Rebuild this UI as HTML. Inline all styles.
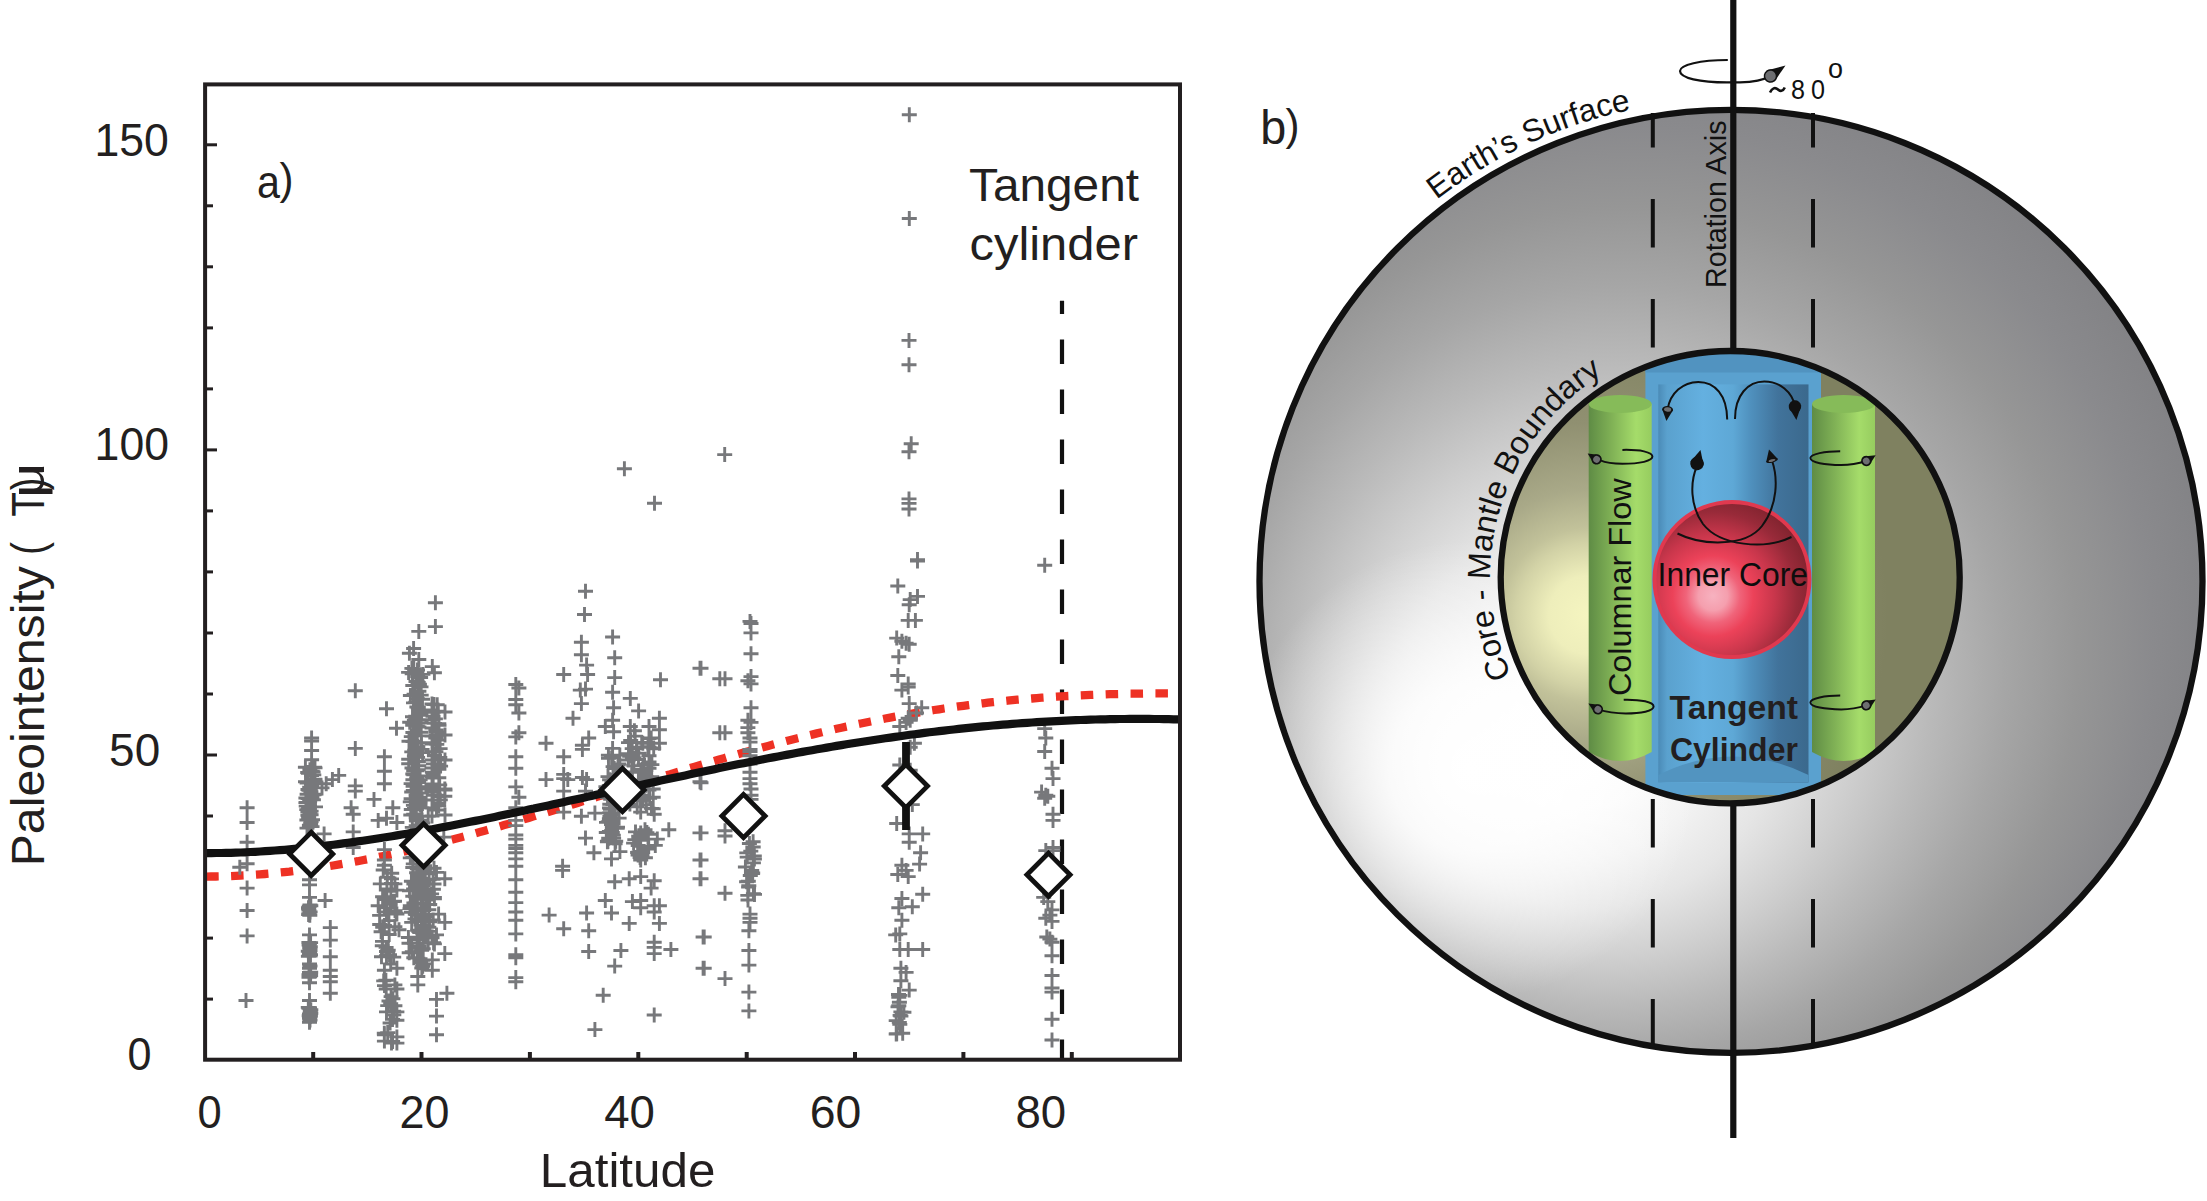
<!DOCTYPE html>
<html><head><meta charset="utf-8"><style>html,body{margin:0;padding:0;background:#fff;overflow:hidden}svg{display:block}</style></head>
<body><svg width="2207" height="1201" viewBox="0 0 2207 1201"><defs>
<radialGradient id="gOuter" gradientUnits="userSpaceOnUse" cx="1660" cy="610" r="640" fx="1560" fy="760"><stop offset="0.000" stop-color="rgb(255,255,255)"/><stop offset="0.100" stop-color="rgb(252,252,252)"/><stop offset="0.200" stop-color="rgb(243,243,243)"/><stop offset="0.300" stop-color="rgb(229,229,229)"/><stop offset="0.400" stop-color="rgb(208,208,208)"/><stop offset="0.500" stop-color="rgb(186,186,186)"/><stop offset="0.600" stop-color="rgb(166,166,166)"/><stop offset="0.700" stop-color="rgb(150,150,150)"/><stop offset="0.800" stop-color="rgb(138,138,141)"/><stop offset="0.880" stop-color="rgb(131,131,134)"/><stop offset="0.940" stop-color="rgb(128,128,131)"/><stop offset="1.000" stop-color="rgb(128,128,131)"/></radialGradient>
<radialGradient id="gInner" gradientUnits="userSpaceOnUse" cx="1588" cy="615" r="300">
 <stop offset="0" stop-color="#f5f5c0"/>
 <stop offset="0.13" stop-color="#eeeebb"/>
 <stop offset="0.24" stop-color="#d2d2a6"/>
 <stop offset="0.29" stop-color="#c2c29a"/>
 <stop offset="0.42" stop-color="#a9a988"/>
 <stop offset="0.64" stop-color="#909071"/>
 <stop offset="1" stop-color="#7f8160"/>
</radialGradient>
<linearGradient id="gBlueIn" gradientUnits="userSpaceOnUse" x1="1658" y1="0" x2="1808" y2="0">
 <stop offset="0" stop-color="#4a8ab6"/>
 <stop offset="0.06" stop-color="#5aa1ce"/>
 <stop offset="0.3" stop-color="#64b0e0"/>
 <stop offset="0.5" stop-color="#5ea8d6"/>
 <stop offset="0.62" stop-color="#4f90bd"/>
 <stop offset="0.8" stop-color="#41739b"/>
 <stop offset="1" stop-color="#3b698d"/>
</linearGradient>
<radialGradient id="gRed" gradientUnits="userSpaceOnUse" cx="1713" cy="596" r="112">
 <stop offset="0" stop-color="#f7b2c0"/>
 <stop offset="0.13" stop-color="#f59fae"/>
 <stop offset="0.24" stop-color="#f0647a"/>
 <stop offset="0.36" stop-color="#ec4259"/>
 <stop offset="0.55" stop-color="#c8364b"/>
 <stop offset="0.75" stop-color="#982a39"/>
 <stop offset="0.9" stop-color="#82242f"/>
 <stop offset="1" stop-color="#7d222e"/>
</radialGradient>
<linearGradient id="gGreenL" gradientUnits="userSpaceOnUse" x1="1589" y1="0" x2="1652" y2="0">
 <stop offset="0" stop-color="#5f8c45"/>
 <stop offset="0.35" stop-color="#7fb055"/>
 <stop offset="0.75" stop-color="#a5dc6a"/>
 <stop offset="1" stop-color="#96cc5f"/>
</linearGradient>
<linearGradient id="gGreenR" gradientUnits="userSpaceOnUse" x1="1812" y1="0" x2="1875" y2="0">
 <stop offset="0" stop-color="#5f8c45"/>
 <stop offset="0.35" stop-color="#7fb055"/>
 <stop offset="0.75" stop-color="#a5dc6a"/>
 <stop offset="1" stop-color="#96cc5f"/>
</linearGradient>
<radialGradient id="gGlow" gradientUnits="userSpaceOnUse" cx="1470" cy="770" r="230">
 <stop offset="0" stop-color="#fff" stop-opacity="1"/>
 <stop offset="0.35" stop-color="#fff" stop-opacity="0.85"/>
 <stop offset="0.7" stop-color="#fff" stop-opacity="0.35"/>
 <stop offset="1" stop-color="#fff" stop-opacity="0"/>
</radialGradient>
<clipPath id="cOuter"><circle cx="1731" cy="581.4" r="468.5"/></clipPath>
<clipPath id="cInner"><ellipse cx="1730.2" cy="577.2" rx="227" ry="223.5"/></clipPath>
<path id="pEarth" d="M1434.3 201.6 A482 482 0 0 1 1647.3 106.7"/><path id="pCMB" d="M1512.7 678.6 A240 240 0 0 1 1628.8 359.7"/></defs><rect width="2207" height="1201" fill="#fff"/><line x1="206" y1="999.1" x2="213" y2="999.1" stroke="#231f20" stroke-width="3"/>
<line x1="206" y1="938.1" x2="213" y2="938.1" stroke="#231f20" stroke-width="3"/>
<line x1="206" y1="877.0" x2="213" y2="877.0" stroke="#231f20" stroke-width="3"/>
<line x1="206" y1="816.0" x2="213" y2="816.0" stroke="#231f20" stroke-width="3"/>
<line x1="206" y1="755.0" x2="217" y2="755.0" stroke="#231f20" stroke-width="3"/>
<line x1="206" y1="694.0" x2="213" y2="694.0" stroke="#231f20" stroke-width="3"/>
<line x1="206" y1="633.0" x2="213" y2="633.0" stroke="#231f20" stroke-width="3"/>
<line x1="206" y1="571.9" x2="213" y2="571.9" stroke="#231f20" stroke-width="3"/>
<line x1="206" y1="510.9" x2="213" y2="510.9" stroke="#231f20" stroke-width="3"/>
<line x1="206" y1="449.9" x2="217" y2="449.9" stroke="#231f20" stroke-width="3"/>
<line x1="206" y1="388.9" x2="213" y2="388.9" stroke="#231f20" stroke-width="3"/>
<line x1="206" y1="327.9" x2="213" y2="327.9" stroke="#231f20" stroke-width="3"/>
<line x1="206" y1="266.8" x2="213" y2="266.8" stroke="#231f20" stroke-width="3"/>
<line x1="206" y1="205.8" x2="213" y2="205.8" stroke="#231f20" stroke-width="3"/>
<line x1="206" y1="144.8" x2="217" y2="144.8" stroke="#231f20" stroke-width="3"/>
<line x1="313.2" y1="1058" x2="313.2" y2="1052" stroke="#231f20" stroke-width="4"/>
<line x1="421.5" y1="1058" x2="421.5" y2="1052" stroke="#231f20" stroke-width="4"/>
<line x1="529.9" y1="1058" x2="529.9" y2="1052" stroke="#231f20" stroke-width="4"/>
<line x1="638.3" y1="1058" x2="638.3" y2="1052" stroke="#231f20" stroke-width="4"/>
<line x1="746.7" y1="1058" x2="746.7" y2="1052" stroke="#231f20" stroke-width="4"/>
<line x1="855.0" y1="1058" x2="855.0" y2="1052" stroke="#231f20" stroke-width="4"/>
<line x1="963.4" y1="1058" x2="963.4" y2="1052" stroke="#231f20" stroke-width="4"/>
<line x1="1071.8" y1="1058" x2="1071.8" y2="1052" stroke="#231f20" stroke-width="4"/>
<line x1="1062" y1="300.7" x2="1062" y2="1058" stroke="#111" stroke-width="4.2" stroke-dasharray="24.5 25.5" stroke-dashoffset="11.3"/>
<path d="M206.2 876.6 L211.1 876.5 L216.0 876.5 L220.9 876.4 L225.7 876.2 L230.6 876.1 L235.5 875.9 L240.4 875.6 L245.3 875.4 L250.2 875.1 L255.1 874.7 L259.9 874.4 L264.8 874.0 L269.7 873.6 L274.6 873.1 L279.5 872.6 L284.4 872.1 L289.3 871.6 L294.1 871.0 L299.0 870.4 L303.9 869.8 L308.8 869.1 L313.7 868.5 L318.6 867.8 L323.5 867.0 L328.3 866.3 L333.2 865.5 L338.1 864.7 L343.0 863.8 L347.9 863.0 L352.8 862.1 L357.7 861.2 L362.5 860.2 L367.4 859.3 L372.3 858.3 L377.2 857.3 L382.1 856.3 L387.0 855.3 L391.9 854.2 L396.8 853.1 L401.6 852.0 L406.5 850.9 L411.4 849.8 L416.3 848.6 L421.2 847.4 L426.1 846.2 L431.0 845.0 L435.8 843.8 L440.7 842.5 L445.6 841.3 L450.5 840.0 L455.4 838.7 L460.3 837.4 L465.2 836.1 L470.0 834.8 L474.9 833.4 L479.8 832.0 L484.7 830.7 L489.6 829.3 L494.5 827.9 L499.4 826.5 L504.2 825.1 L509.1 823.7 L514.0 822.2 L518.9 820.8 L523.8 819.3 L528.7 817.9 L533.6 816.4 L538.4 814.9 L543.3 813.5 L548.2 812.0 L553.1 810.5 L558.0 809.0 L562.9 807.5 L567.8 806.0 L572.6 804.5 L577.5 803.0 L582.4 801.4 L587.3 799.9 L592.2 798.4 L597.1 796.9 L602.0 795.4 L606.8 793.8 L611.7 792.3 L616.6 790.8 L621.5 789.3 L626.4 787.7 L631.3 786.2 L636.2 784.7 L641.0 783.2 L645.9 781.7 L650.8 780.2 L655.7 778.6 L660.6 777.1 L665.5 775.6 L670.4 774.2 L675.2 772.7 L680.1 771.2 L685.0 769.7 L689.9 768.2 L694.8 766.8 L699.7 765.3 L704.6 763.9 L709.5 762.4 L714.3 761.0 L719.2 759.6 L724.1 758.2 L729.0 756.7 L733.9 755.4 L738.8 754.0 L743.7 752.6 L748.5 751.2 L753.4 749.9 L758.3 748.5 L763.2 747.2 L768.1 745.9 L773.0 744.6 L777.9 743.3 L782.7 742.0 L787.6 740.7 L792.5 739.5 L797.4 738.2 L802.3 737.0 L807.2 735.8 L812.1 734.6 L816.9 733.4 L821.8 732.3 L826.7 731.1 L831.6 730.0 L836.5 728.8 L841.4 727.7 L846.3 726.6 L851.1 725.6 L856.0 724.5 L860.9 723.5 L865.8 722.5 L870.7 721.5 L875.6 720.5 L880.5 719.5 L885.3 718.5 L890.2 717.6 L895.1 716.7 L900.0 715.8 L904.9 714.9 L909.8 714.0 L914.7 713.2 L919.5 712.4 L924.4 711.6 L929.3 710.8 L934.2 710.0 L939.1 709.3 L944.0 708.5 L948.9 707.8 L953.7 707.1 L958.6 706.4 L963.5 705.8 L968.4 705.1 L973.3 704.5 L978.2 703.9 L983.1 703.3 L987.9 702.7 L992.8 702.2 L997.7 701.7 L1002.6 701.2 L1007.5 700.7 L1012.4 700.2 L1017.3 699.7 L1022.2 699.3 L1027.0 698.9 L1031.9 698.5 L1036.8 698.1 L1041.7 697.7 L1046.6 697.4 L1051.5 697.0 L1056.4 696.7 L1061.2 696.4 L1066.1 696.1 L1071.0 695.9 L1075.9 695.6 L1080.8 695.4 L1085.7 695.1 L1090.6 694.9 L1095.4 694.7 L1100.3 694.6 L1105.2 694.4 L1110.1 694.2 L1115.0 694.1 L1119.9 694.0 L1124.8 693.8 L1129.6 693.7 L1134.5 693.7 L1139.4 693.6 L1144.3 693.5 L1149.2 693.4 L1154.1 693.4 L1159.0 693.4 L1163.8 693.3 L1168.7 693.3 L1173.6 693.3 L1178.5 693.3" fill="none" stroke="#ee3124" stroke-width="8.3" stroke-dasharray="12.5 12.4"/>
<path d="M427.9 602.7h15M435.4 595.2v15M427.9 626.6h15M435.4 619.1v15M411.3 631.4h15M418.8 623.9v15M406.1 648.5h15M413.6 641.0v15M401.9 653.3h15M409.4 645.8v15M411.3 659.5h15M418.8 652.0v15M424.8 666.6h15M432.3 659.1v15M426.9 672.8h15M434.4 665.3v15M424.8 709.9h15M432.3 702.4v15M426.9 723.4h15M434.4 715.9v15M424.8 735.9h15M432.3 728.4v15M431.1 740.1h15M438.6 732.6v15M426.9 755.7h15M434.4 748.2v15M433.1 766.1h15M440.6 758.6v15M424.8 776.5h15M432.3 769.0v15M437.3 789.0h15M444.8 781.5v15M437.3 796.3h15M444.8 788.8v15M424.8 786.9h15M432.3 779.4v15M347.8 690.7h15M355.3 683.2v15M379.0 708.8h15M386.5 701.3v15M389.0 728.2h15M396.5 720.7v15M347.8 748.4h15M355.3 740.9v15M376.9 756.7h15M384.4 749.2v15M376.9 771.3h15M384.4 763.8v15M376.9 783.8h15M384.4 776.3v15M347.8 785.9h15M355.3 778.4v15M347.8 791.1h15M355.3 783.6v15M366.5 799.4h15M374.0 791.9v15M343.6 807.7h15M351.1 800.2v15M385.3 807.7h15M392.8 800.2v15M304.1 738.0h15M311.6 730.5v15M304.1 741.1h15M311.6 733.6v15M304.1 750.5h15M311.6 743.0v15M304.1 759.8h15M311.6 752.3v15M331.2 775.4h15M338.7 767.9v15M324.9 779.6h15M332.4 772.1v15M318.7 783.8h15M326.2 776.3v15M314.5 787.9h15M322.0 780.4v15M239.6 807.7h15M247.1 800.2v15M404.4 668.4h15M411.9 660.9v15M406.3 668.6h15M413.8 661.1v15M410.0 670.0h15M417.5 662.5v15M401.1 672.4h15M408.6 664.9v15M404.7 673.7h15M412.2 666.2v15M415.4 674.4h15M422.9 666.9v15M413.1 677.5h15M420.6 670.0v15M410.2 676.5h15M417.7 669.0v15M410.1 681.9h15M417.6 674.4v15M408.5 681.5h15M416.0 674.0v15M410.7 682.5h15M418.2 675.0v15M411.9 684.1h15M419.4 676.6v15M405.3 685.5h15M412.8 678.0v15M413.5 686.9h15M421.0 679.4v15M411.4 691.3h15M418.9 683.8v15M411.3 691.4h15M418.8 683.9v15M406.6 694.2h15M414.1 686.7v15M407.4 694.6h15M414.9 687.1v15M413.7 695.1h15M421.2 687.6v15M402.9 695.5h15M410.4 688.0v15M415.0 699.3h15M422.5 691.8v15M410.0 698.8h15M417.5 691.3v15M408.3 702.2h15M415.8 694.7v15M406.0 702.9h15M413.5 695.4v15M409.4 707.0h15M416.9 699.5v15M410.8 707.1h15M418.3 699.6v15M413.4 710.4h15M420.9 702.9v15M410.7 707.8h15M418.2 700.3v15M413.4 713.4h15M420.9 705.9v15M414.1 712.2h15M421.6 704.7v15M411.3 714.2h15M418.8 706.7v15M413.0 715.3h15M420.5 707.8v15M405.0 716.8h15M412.5 709.3v15M413.3 719.7h15M420.8 712.2v15M402.2 722.3h15M409.7 714.8v15M406.9 720.2h15M414.4 712.7v15M405.2 725.3h15M412.7 717.8v15M413.6 723.0h15M421.1 715.5v15M409.8 726.1h15M417.3 718.6v15M411.4 727.0h15M418.9 719.5v15M413.7 732.2h15M421.2 724.7v15M408.2 732.2h15M415.7 724.7v15M405.4 732.5h15M412.9 725.0v15M409.6 732.4h15M417.1 724.9v15M403.8 736.6h15M411.3 729.1v15M409.8 735.9h15M417.3 728.4v15M401.5 741.2h15M409.0 733.7v15M405.5 741.5h15M413.0 734.0v15M414.0 742.8h15M421.5 735.3v15M407.6 743.2h15M415.1 735.7v15M410.3 746.6h15M417.8 739.1v15M409.0 746.7h15M416.5 739.2v15M414.6 749.4h15M422.1 741.9v15M407.2 750.1h15M414.7 742.6v15M404.3 751.9h15M411.8 744.4v15M415.1 752.6h15M422.6 745.1v15M408.9 754.1h15M416.4 746.6v15M406.9 755.9h15M414.4 748.4v15M401.2 759.2h15M408.7 751.7v15M410.1 757.4h15M417.6 749.9v15M410.0 761.8h15M417.5 754.3v15M410.8 761.5h15M418.3 754.0v15M411.2 765.8h15M418.7 758.3v15M401.2 763.7h15M408.7 756.2v15M410.7 769.6h15M418.2 762.1v15M404.5 768.0h15M412.0 760.5v15M409.5 770.7h15M417.0 763.2v15M406.2 770.7h15M413.7 763.2v15M406.3 774.7h15M413.8 767.2v15M405.3 774.0h15M412.8 766.5v15M412.1 776.0h15M419.6 768.5v15M409.2 778.3h15M416.7 770.8v15M405.4 779.8h15M412.9 772.3v15M412.6 779.8h15M420.1 772.3v15M403.6 783.6h15M411.1 776.1v15M411.1 782.5h15M418.6 775.0v15M405.6 786.4h15M413.1 778.9v15M413.0 786.7h15M420.5 779.2v15M413.4 789.0h15M420.9 781.5v15M405.8 790.5h15M413.3 783.0v15M413.8 793.0h15M421.3 785.5v15M404.2 792.0h15M411.7 784.5v15M408.6 795.3h15M416.1 787.8v15M412.6 797.3h15M420.1 789.8v15M403.6 798.7h15M411.1 791.2v15M412.6 799.8h15M420.1 792.3v15M412.6 802.0h15M420.1 794.5v15M402.8 801.9h15M410.3 794.4v15M412.5 804.9h15M420.0 797.4v15M405.9 805.4h15M413.4 797.9v15M407.0 808.5h15M414.5 801.0v15M414.3 807.7h15M421.8 800.2v15M297.9 767.2h15M305.4 759.7v15M307.0 767.3h15M314.5 759.8v15M302.4 769.7h15M309.9 762.2v15M307.5 767.9h15M315.0 760.4v15M305.6 771.9h15M313.1 764.4v15M304.7 771.1h15M312.2 763.6v15M300.9 773.2h15M308.4 765.7v15M300.2 772.5h15M307.7 765.0v15M304.0 775.5h15M311.5 768.0v15M306.3 774.9h15M313.8 767.4v15M307.3 779.1h15M314.8 771.6v15M307.5 779.6h15M315.0 772.1v15M307.2 781.3h15M314.7 773.8v15M298.0 781.7h15M305.5 774.2v15M299.6 783.1h15M307.1 775.6v15M304.7 783.6h15M312.2 776.1v15M302.2 787.2h15M309.7 779.7v15M304.2 785.7h15M311.7 778.2v15M300.5 789.5h15M308.0 782.0v15M302.8 789.3h15M310.3 781.8v15M301.5 790.3h15M309.0 782.8v15M303.4 791.8h15M310.9 784.3v15M299.6 794.3h15M307.1 786.8v15M307.4 794.3h15M314.9 786.8v15M306.4 794.8h15M313.9 787.3v15M304.4 797.0h15M311.9 789.5v15M298.4 798.0h15M305.9 790.5v15M300.6 798.6h15M308.1 791.1v15M302.2 801.0h15M309.7 793.5v15M305.9 799.8h15M313.4 792.3v15M298.4 802.6h15M305.9 795.1v15M299.1 802.5h15M306.6 795.0v15M308.0 806.9h15M315.5 799.4v15M298.7 806.1h15M306.2 798.6v15M301.1 808.1h15M308.6 800.6v15M301.5 808.9h15M309.0 801.4v15M429.7 704.8h15M437.2 697.3v15M426.4 704.6h15M433.9 697.1v15M425.9 712.3h15M433.4 704.8v15M430.8 711.2h15M438.3 703.7v15M425.5 716.2h15M433.0 708.7v15M427.9 718.9h15M435.4 711.4v15M431.3 723.7h15M438.8 716.2v15M431.5 725.2h15M439.0 717.7v15M428.4 729.9h15M435.9 722.4v15M429.0 732.0h15M436.5 724.5v15M428.3 738.1h15M435.8 730.6v15M428.7 735.3h15M436.2 727.8v15M429.3 744.4h15M436.8 736.9v15M425.4 742.7h15M432.9 735.2v15M428.4 751.8h15M435.9 744.3v15M432.6 748.6h15M440.1 741.1v15M432.3 757.5h15M439.8 750.0v15M427.0 755.4h15M434.5 747.9v15M425.8 763.9h15M433.3 756.4v15M430.3 764.3h15M437.8 756.8v15M431.4 769.2h15M438.9 761.7v15M430.9 768.6h15M438.4 761.1v15M425.7 775.0h15M433.2 767.5v15M424.9 772.2h15M432.4 764.7v15M431.3 777.8h15M438.8 770.3v15M425.6 778.1h15M433.1 770.6v15M432.2 784.9h15M439.7 777.4v15M425.0 789.0h15M432.5 781.5v15M425.8 795.3h15M433.3 787.8v15M430.4 795.2h15M437.9 787.7v15M432.8 799.9h15M440.3 792.4v15M431.5 796.5h15M439.0 789.0v15M431.2 805.7h15M438.7 798.2v15M430.8 803.2h15M438.3 795.7v15M239.6 822.5h15M247.1 815.0v15M239.6 842.3h15M247.1 834.8v15M239.6 863.7h15M247.1 856.2v15M239.6 888.1h15M247.1 880.6v15M239.6 910.5h15M247.1 903.0v15M239.6 935.9h15M247.1 928.4v15M238.5 1000.5h15M246.0 993.0v15M232.3 867.2h15M239.8 859.7v15M316.6 833.9h15M324.1 826.4v15M317.6 900.5h15M325.1 893.0v15M302.0 879.7h15M309.5 872.2v15M302.0 884.9h15M309.5 877.4v15M302.0 897.4h15M309.5 889.9v15M302.0 934.9h15M309.5 927.4v15M302.0 943.2h15M309.5 935.7v15M302.0 953.6h15M309.5 946.1v15M302.0 964.0h15M309.5 956.5v15M302.0 968.2h15M309.5 960.7v15M302.0 972.4h15M309.5 964.9v15M302.0 976.5h15M309.5 969.0v15M302.0 982.8h15M309.5 975.3v15M302.0 1000.5h15M309.5 993.0v15M302.0 1007.8h15M309.5 1000.3v15M302.0 1014.0h15M309.5 1006.5v15M302.0 1018.2h15M309.5 1010.7v15M302.0 1022.3h15M309.5 1014.8v15M322.8 927.6h15M330.3 920.1v15M322.8 940.1h15M330.3 932.6v15M322.8 956.8h15M330.3 949.3v15M322.8 970.3h15M330.3 962.8v15M322.8 976.5h15M330.3 969.0v15M322.8 981.7h15M330.3 974.2v15M322.8 993.2h15M330.3 985.7v15M345.7 814.2h15M353.2 806.7v15M345.7 831.9h15M353.2 824.4v15M345.7 847.5h15M353.2 840.0v15M370.7 820.4h15M378.2 812.9v15M379.0 818.3h15M386.5 810.8v15M389.4 822.5h15M396.9 815.0v15M376.9 849.6h15M384.4 842.1v15M376.9 860.0h15M384.4 852.5v15M376.9 865.2h15M384.4 857.7v15M372.8 883.9h15M380.3 876.4v15M387.4 883.9h15M394.9 876.4v15M389.4 890.1h15M396.9 882.6v15M376.9 899.5h15M384.4 892.0v15M385.3 901.6h15M392.8 894.1v15M370.7 905.8h15M378.2 898.3v15M379.0 912.0h15M386.5 904.5v15M389.4 914.1h15M396.9 906.6v15M376.9 925.5h15M384.4 918.0v15M387.4 926.6h15M394.9 919.1v15M391.5 929.7h15M399.0 922.2v15M379.0 951.5h15M386.5 944.0v15M379.0 955.7h15M386.5 948.2v15M383.2 964.0h15M390.7 956.5v15M376.9 970.3h15M384.4 962.8v15M389.4 968.2h15M396.9 960.7v15M387.4 984.9h15M394.9 977.4v15M389.4 989.0h15M396.9 981.5v15M383.2 1003.6h15M390.7 996.1v15M387.4 1005.7h15M394.9 998.2v15M379.0 1011.9h15M386.5 1004.4v15M389.4 1011.9h15M396.9 1004.4v15M389.4 1020.2h15M396.9 1012.7v15M376.9 1034.8h15M384.4 1027.3v15M389.4 1036.9h15M396.9 1029.4v15M389.4 1043.1h15M396.9 1035.6v15M376.9 1041.1h15M384.4 1033.6v15M410.3 976.5h15M417.8 969.0v15M410.3 984.9h15M417.8 977.4v15M429.0 810.0h15M436.5 802.5v15M420.7 816.2h15M428.2 808.7v15M436.3 837.1h15M443.8 829.6v15M429.0 872.4h15M436.5 864.9v15M437.3 878.7h15M444.8 871.2v15M426.9 897.4h15M434.4 889.9v15M431.1 914.1h15M438.6 906.6v15M437.3 922.4h15M444.8 914.9v15M429.0 934.9h15M436.5 927.4v15M420.7 943.2h15M428.2 935.7v15M437.3 953.6h15M444.8 946.1v15M424.8 959.9h15M432.3 952.4v15M424.8 970.3h15M432.3 962.8v15M439.4 993.2h15M446.9 985.7v15M429.0 999.4h15M436.5 991.9v15M429.0 1016.1h15M436.5 1008.6v15M429.0 1034.8h15M436.5 1027.3v15M303.6 811.1h15M311.1 803.6v15M299.3 809.6h15M306.8 802.1v15M302.4 813.3h15M309.9 805.8v15M300.4 811.7h15M307.9 804.2v15M300.4 815.3h15M307.9 807.8v15M303.6 814.7h15M311.1 807.2v15M301.2 817.2h15M308.7 809.7v15M301.1 817.3h15M308.6 809.8v15M299.4 820.0h15M306.9 812.5v15M305.0 819.8h15M312.5 812.3v15M303.6 821.6h15M311.1 814.1v15M303.2 823.1h15M310.7 815.6v15M303.1 825.0h15M310.6 817.5v15M301.9 825.3h15M309.4 817.8v15M304.5 826.6h15M312.0 819.1v15M299.5 828.1h15M307.0 820.6v15M303.3 905.8h15M310.8 898.3v15M301.8 906.3h15M309.3 898.8v15M301.0 907.7h15M308.5 900.2v15M301.1 908.5h15M308.6 901.0v15M301.4 910.1h15M308.9 902.6v15M302.6 911.9h15M310.1 904.4v15M301.4 913.8h15M308.9 906.3v15M301.7 914.1h15M309.2 906.6v15M302.3 915.2h15M309.8 907.7v15M301.1 914.6h15M308.6 907.1v15M408.9 809.6h15M416.4 802.1v15M403.8 809.5h15M411.3 802.0v15M406.2 814.2h15M413.7 806.7v15M403.3 815.0h15M410.8 807.5v15M408.9 817.0h15M416.4 809.5v15M408.7 817.8h15M416.2 810.3v15M414.6 820.2h15M422.1 812.7v15M408.9 820.7h15M416.4 813.2v15M415.2 823.0h15M422.7 815.5v15M413.1 824.9h15M420.6 817.4v15M408.7 825.8h15M416.2 818.3v15M404.8 827.4h15M412.3 819.9v15M412.1 831.5h15M419.6 824.0v15M415.1 829.1h15M422.6 821.6v15M404.0 832.5h15M411.5 825.0v15M404.0 834.0h15M411.5 826.5v15M415.2 838.0h15M422.7 830.5v15M405.1 837.9h15M412.6 830.4v15M406.1 839.7h15M413.6 832.2v15M413.0 838.6h15M420.5 831.1v15M402.4 844.4h15M409.9 836.9v15M405.7 842.8h15M413.2 835.3v15M410.5 847.2h15M418.0 839.7v15M401.0 846.1h15M408.5 838.6v15M408.1 849.9h15M415.6 842.4v15M404.4 850.3h15M411.9 842.8v15M416.8 852.9h15M424.3 845.4v15M409.9 852.0h15M417.4 844.5v15M405.5 857.2h15M413.0 849.7v15M402.8 857.9h15M410.3 850.4v15M416.0 858.6h15M423.5 851.1v15M416.6 859.5h15M424.1 852.0v15M413.7 864.1h15M421.2 856.6v15M405.8 863.9h15M413.3 856.4v15M411.8 867.6h15M419.3 860.1v15M405.3 867.5h15M412.8 860.0v15M416.9 870.5h15M424.4 863.0v15M409.8 868.7h15M417.3 861.2v15M409.1 872.8h15M416.6 865.3v15M412.8 873.9h15M420.3 866.4v15M410.3 875.6h15M417.8 868.1v15M411.6 877.0h15M419.1 869.5v15M403.9 881.2h15M411.4 873.7v15M411.8 878.7h15M419.3 871.2v15M416.4 882.1h15M423.9 874.6v15M406.4 884.0h15M413.9 876.5v15M410.8 886.8h15M418.3 879.3v15M411.7 886.5h15M419.2 879.0v15M406.1 888.9h15M413.6 881.4v15M402.0 890.7h15M409.5 883.2v15M413.4 893.4h15M420.9 885.9v15M413.2 892.8h15M420.7 885.3v15M405.3 896.2h15M412.8 888.7v15M415.4 895.1h15M422.9 887.6v15M409.3 899.1h15M416.8 891.6v15M413.7 899.4h15M421.2 891.9v15M406.4 902.9h15M413.9 895.4v15M409.9 904.2h15M417.4 896.7v15M406.8 907.7h15M414.3 900.2v15M402.8 905.8h15M410.3 898.3v15M402.5 908.6h15M410.0 901.1v15M413.9 910.7h15M421.4 903.2v15M404.0 912.2h15M411.5 904.7v15M407.8 914.1h15M415.3 906.6v15M414.5 917.4h15M422.0 909.9v15M410.7 915.4h15M418.2 907.9v15M407.5 918.9h15M415.0 911.4v15M409.7 920.1h15M417.2 912.6v15M404.2 922.4h15M411.7 914.9v15M413.9 921.7h15M421.4 914.2v15M414.3 927.9h15M421.8 920.4v15M416.7 926.2h15M424.2 918.7v15M410.1 930.2h15M417.6 922.7v15M411.4 931.5h15M418.9 924.0v15M412.3 932.6h15M419.8 925.1v15M415.2 933.2h15M422.7 925.7v15M410.9 937.3h15M418.4 929.8v15M400.9 937.5h15M408.4 930.0v15M411.9 939.9h15M419.4 932.4v15M409.6 939.8h15M417.1 932.3v15M404.1 943.3h15M411.6 935.8v15M401.5 943.2h15M409.0 935.7v15M411.6 946.4h15M419.1 938.9v15M410.3 948.1h15M417.8 940.6v15M415.7 948.7h15M423.2 941.2v15M414.1 950.3h15M421.6 942.8v15M401.7 952.7h15M409.2 945.2v15M404.8 951.8h15M412.3 944.3v15M409.9 958.0h15M417.4 950.5v15M406.3 957.8h15M413.8 950.3v15M412.5 958.7h15M420.0 951.2v15M415.2 960.2h15M422.7 952.7v15M416.3 963.9h15M423.8 956.4v15M413.2 962.7h15M420.7 955.2v15M414.3 968.0h15M421.8 960.5v15M415.2 966.3h15M422.7 958.8v15M426.5 868.2h15M434.0 860.7v15M417.0 865.8h15M424.5 858.3v15M416.6 872.1h15M424.1 864.6v15M417.8 873.7h15M425.3 866.2v15M425.6 879.3h15M433.1 871.8v15M421.6 879.9h15M429.1 872.4v15M419.9 884.3h15M427.4 876.8v15M426.5 884.0h15M434.0 876.5v15M418.1 892.1h15M425.6 884.6v15M425.9 889.2h15M433.4 881.7v15M420.9 895.5h15M428.4 888.0v15M424.1 893.9h15M431.6 886.4v15M415.5 899.2h15M423.0 891.7v15M426.9 898.8h15M434.4 891.3v15M422.2 904.5h15M429.7 897.0v15M418.5 904.4h15M426.0 896.9v15M421.3 909.8h15M428.8 902.3v15M415.9 909.5h15M423.4 902.0v15M417.9 916.9h15M425.4 909.4v15M416.3 914.4h15M423.8 906.9v15M422.0 921.9h15M429.5 914.4v15M425.7 920.0h15M433.2 912.5v15M421.3 927.3h15M428.8 919.8v15M415.8 930.3h15M423.3 922.8v15M418.6 931.0h15M426.1 923.5v15M422.4 931.4h15M429.9 923.9v15M424.5 937.8h15M432.0 930.3v15M417.3 936.2h15M424.8 928.7v15M426.1 942.8h15M433.6 935.3v15M426.9 943.9h15M434.4 936.4v15M303.1 942.6h15M310.6 935.1v15M301.4 942.5h15M308.9 935.0v15M302.8 946.7h15M310.3 939.2v15M301.6 945.1h15M309.1 937.6v15M302.5 950.9h15M310.0 943.4v15M302.2 947.9h15M309.7 940.4v15M300.8 951.3h15M308.3 943.8v15M301.2 951.1h15M308.7 943.6v15M300.9 956.2h15M308.4 948.7v15M303.0 954.8h15M310.5 947.3v15M303.2 972.3h15M310.7 964.8v15M302.8 973.2h15M310.3 965.7v15M303.1 973.5h15M310.6 966.0v15M301.5 974.7h15M309.0 967.2v15M303.1 975.7h15M310.6 968.2v15M301.5 977.3h15M309.0 969.8v15M300.8 1007.4h15M308.3 999.9v15M301.5 1008.3h15M309.0 1000.8v15M303.3 1009.7h15M310.8 1002.2v15M302.8 1011.3h15M310.3 1003.8v15M303.1 1013.7h15M310.6 1006.2v15M303.3 1013.2h15M310.8 1005.7v15M301.7 1015.7h15M309.2 1008.2v15M302.9 1016.4h15M310.4 1008.9v15M375.7 870.0h15M383.2 862.5v15M384.2 873.2h15M391.7 865.7v15M384.0 878.9h15M391.5 871.4v15M379.8 877.2h15M387.3 869.7v15M384.0 883.5h15M391.5 876.0v15M379.4 888.9h15M386.9 881.4v15M383.4 891.4h15M390.9 883.9v15M375.1 896.8h15M382.6 889.3v15M382.7 904.3h15M390.2 896.8v15M387.0 901.2h15M394.5 893.7v15M387.5 910.6h15M395.0 903.1v15M377.0 907.9h15M384.5 900.4v15M372.1 915.4h15M379.6 907.9v15M388.6 913.3h15M396.1 905.8v15M381.4 920.6h15M388.9 913.1v15M372.2 924.5h15M379.7 917.0v15M375.2 927.4h15M382.7 919.9v15M373.6 931.8h15M381.1 924.3v15M381.7 934.5h15M389.2 927.0v15M375.0 941.4h15M382.5 933.9v15M374.8 945.8h15M382.3 938.3v15M378.6 947.4h15M386.1 939.9v15M382.0 954.7h15M389.5 947.2v15M380.7 950.3h15M388.2 942.8v15M374.0 956.8h15M381.5 949.3v15M386.2 957.1h15M393.7 949.6v15M376.2 980.9h15M383.7 973.4v15M378.4 980.2h15M385.9 972.7v15M377.0 985.6h15M384.5 978.1v15M378.7 989.0h15M386.2 981.5v15M383.6 996.6h15M391.1 989.1v15M385.4 998.7h15M392.9 991.2v15M380.2 1005.6h15M387.7 998.1v15M381.5 1001.0h15M389.0 993.5v15M386.3 1014.9h15M393.8 1007.4v15M386.1 1011.2h15M393.6 1003.7v15M382.6 1023.0h15M390.1 1015.5v15M385.0 1019.4h15M392.5 1011.9v15M380.2 1032.6h15M387.7 1025.1v15M376.8 1033.2h15M384.3 1025.7v15M385.1 1041.4h15M392.6 1033.9v15M384.0 1043.1h15M391.5 1035.6v15M578.0 591.2h15M585.5 583.7v15M577.0 614.5h15M584.5 607.0v15M573.9 642.2h15M581.4 634.7v15M573.9 654.7h15M581.4 647.2v15M579.1 665.1h15M586.6 657.6v15M580.1 674.5h15M587.6 667.0v15M556.2 674.5h15M563.7 667.0v15M578.0 689.1h15M585.5 681.6v15M572.8 690.1h15M580.3 682.6v15M573.9 703.6h15M581.4 696.1v15M565.5 718.2h15M573.0 710.7v15M605.1 637.0h15M612.6 629.5v15M607.2 657.8h15M614.7 650.3v15M607.2 677.6h15M614.7 670.1v15M605.1 692.2h15M612.6 684.7v15M606.1 707.8h15M613.6 700.3v15M605.1 720.3h15M612.6 712.8v15M597.8 726.5h15M605.3 719.0v15M606.1 731.7h15M613.6 724.2v15M622.8 698.4h15M630.3 690.9v15M631.1 710.9h15M638.6 703.4v15M651.9 718.2h15M659.4 710.7v15M622.8 726.5h15M630.3 719.0v15M626.9 730.7h15M634.4 723.2v15M653.0 679.7h15M660.5 672.2v15M692.5 668.2h15M700.0 660.7v15M712.3 678.7h15M719.8 671.2v15M712.3 732.8h15M719.8 725.3v15M651.9 729.7h15M659.4 722.2v15M651.9 743.2h15M659.4 735.7v15M641.5 726.5h15M649.0 719.0v15M508.3 684.5h15M515.8 677.0v15M511.4 688.0h15M518.9 680.5v15M508.3 699.5h15M515.8 692.0v15M508.3 704.7h15M515.8 697.2v15M511.4 713.0h15M518.9 705.5v15M511.4 732.8h15M518.9 725.3v15M508.3 736.9h15M515.8 729.4v15M508.3 756.7h15M515.8 749.2v15M508.3 768.2h15M515.8 760.7v15M508.3 786.9h15M515.8 779.4v15M511.4 797.3h15M518.9 789.8v15M508.3 807.7h15M515.8 800.2v15M538.5 743.2h15M546.0 735.7v15M556.2 756.7h15M563.7 749.2v15M581.2 738.0h15M588.7 730.5v15M574.9 745.3h15M582.4 737.8v15M574.9 749.4h15M582.4 741.9v15M538.5 779.6h15M546.0 772.1v15M556.2 774.4h15M563.7 766.9v15M556.2 778.6h15M563.7 771.1v15M560.3 779.6h15M567.8 772.1v15M574.9 777.5h15M582.4 770.0v15M579.1 779.6h15M586.6 772.1v15M556.2 791.1h15M563.7 783.6v15M578.0 791.1h15M585.5 783.6v15M605.1 748.4h15M612.6 740.9v15M624.9 757.8h15M632.4 750.3v15M629.0 747.3h15M636.5 739.8v15M635.3 743.2h15M642.8 735.7v15M641.5 747.3h15M649.0 739.8v15M641.5 755.7h15M649.0 748.2v15M641.5 761.9h15M649.0 754.4v15M641.5 768.2h15M649.0 760.7v15M635.3 770.2h15M642.8 762.7v15M624.9 772.3h15M632.4 764.8v15M692.5 781.7h15M700.0 774.2v15M645.7 789.0h15M653.2 781.5v15M645.7 797.3h15M653.2 789.8v15M645.7 808.8h15M653.2 801.3v15M600.9 755.1h15M608.4 747.6v15M612.3 755.1h15M619.8 747.6v15M604.1 757.9h15M611.6 750.4v15M601.0 758.2h15M608.5 750.7v15M611.4 764.0h15M618.9 756.5v15M610.5 765.0h15M618.0 757.5v15M606.7 768.5h15M614.2 761.0v15M605.6 766.6h15M613.1 759.1v15M611.6 772.2h15M619.1 764.7v15M611.6 770.6h15M619.1 763.1v15M609.1 774.1h15M616.6 766.6v15M612.3 776.0h15M619.8 768.5v15M602.1 779.8h15M609.6 772.3v15M600.5 776.6h15M608.0 769.1v15M608.3 781.1h15M615.8 773.6v15M605.4 782.4h15M612.9 774.9v15M598.4 786.6h15M605.9 779.1v15M601.8 785.4h15M609.3 777.9v15M602.8 790.3h15M610.3 782.8v15M608.7 788.6h15M616.2 781.1v15M599.3 792.4h15M606.8 784.9v15M603.8 791.6h15M611.3 784.1v15M600.0 797.9h15M607.5 790.4v15M608.0 798.7h15M615.5 791.2v15M612.1 802.0h15M619.6 794.5v15M603.2 799.4h15M610.7 791.9v15M602.3 804.2h15M609.8 796.7v15M605.5 804.5h15M613.0 797.0v15M603.0 809.4h15M610.5 801.9v15M602.0 808.0h15M609.5 800.5v15M643.7 738.0h15M651.2 730.5v15M627.7 736.1h15M635.2 728.6v15M641.5 738.6h15M649.0 731.1v15M623.2 740.4h15M630.7 732.9v15M634.2 742.5h15M641.7 735.0v15M621.0 742.6h15M628.5 735.1v15M640.5 746.8h15M648.0 739.3v15M646.2 747.9h15M653.7 740.4v15M646.2 748.7h15M653.7 741.2v15M624.7 748.6h15M632.2 741.1v15M631.4 753.1h15M638.9 745.6v15M621.0 753.7h15M628.5 746.2v15M622.2 756.3h15M629.7 748.8v15M626.4 757.9h15M633.9 750.4v15M631.0 759.5h15M638.5 752.0v15M620.9 760.0h15M628.4 752.5v15M636.6 764.2h15M644.1 756.7v15M644.4 764.6h15M651.9 757.1v15M626.4 765.7h15M633.9 758.2v15M640.2 767.9h15M647.7 760.4v15M633.4 771.3h15M640.9 763.8v15M634.6 769.5h15M642.1 762.0v15M624.2 772.0h15M631.7 764.5v15M637.1 774.9h15M644.6 767.4v15M644.2 776.8h15M651.7 769.3v15M637.7 778.3h15M645.2 770.8v15M641.7 780.6h15M649.2 773.1v15M630.9 780.3h15M638.4 772.8v15M624.3 782.5h15M631.8 775.0v15M638.2 785.2h15M645.7 777.7v15M634.5 786.6h15M642.0 779.1v15M629.2 786.7h15M636.7 779.2v15M641.4 790.1h15M648.9 782.6v15M645.6 789.1h15M653.1 781.6v15M628.2 793.6h15M635.7 786.1v15M630.8 794.7h15M638.3 787.2v15M642.1 798.3h15M649.6 790.8v15M636.2 795.3h15M643.7 787.8v15M635.2 800.4h15M642.7 792.9v15M632.9 799.5h15M640.4 792.0v15M638.9 804.9h15M646.4 797.4v15M622.4 804.1h15M629.9 796.6v15M629.7 806.9h15M637.2 799.4v15M643.9 808.4h15M651.4 800.9v15M508.3 820.4h15M515.8 812.9v15M508.3 825.6h15M515.8 818.1v15M508.3 835.0h15M515.8 827.5v15M508.3 839.1h15M515.8 831.6v15M508.3 845.4h15M515.8 837.9v15M508.3 848.5h15M515.8 841.0v15M508.3 852.7h15M515.8 845.2v15M508.3 858.9h15M515.8 851.4v15M508.3 866.2h15M515.8 858.7v15M508.3 879.7h15M515.8 872.2v15M508.3 892.2h15M515.8 884.7v15M508.3 902.6h15M515.8 895.1v15M508.3 912.0h15M515.8 904.5v15M508.3 920.3h15M515.8 912.8v15M508.3 933.9h15M515.8 926.4v15M508.3 954.7h15M515.8 947.2v15M508.3 957.8h15M515.8 950.3v15M508.3 977.6h15M515.8 970.1v15M508.3 981.7h15M515.8 974.2v15M555.1 866.2h15M562.6 858.7v15M555.1 870.4h15M562.6 862.9v15M541.6 915.1h15M549.1 907.6v15M556.2 928.7h15M563.7 921.2v15M578.0 838.1h15M585.5 830.6v15M586.4 852.7h15M593.9 845.2v15M573.9 816.2h15M581.4 808.7v15M556.2 812.1h15M563.7 804.6v15M587.4 813.1h15M594.9 805.6v15M579.1 913.0h15M586.6 905.5v15M581.2 930.7h15M588.7 923.2v15M581.2 951.5h15M588.7 944.0v15M597.8 900.5h15M605.3 893.0v15M604.0 913.0h15M611.5 905.5v15M607.2 881.8h15M614.7 874.3v15M613.4 950.5h15M620.9 943.0v15M607.2 966.1h15M614.7 958.6v15M595.7 995.3h15M603.2 987.8v15M587.4 1029.6h15M594.9 1022.1v15M646.7 1015.0h15M654.2 1007.5v15M621.7 923.4h15M629.2 915.9v15M621.7 878.7h15M629.2 871.2v15M633.2 876.6h15M640.7 869.1v15M643.6 888.1h15M651.1 880.6v15M646.7 880.8h15M654.2 873.3v15M633.2 900.5h15M640.7 893.0v15M624.9 901.6h15M632.4 894.1v15M633.2 907.8h15M640.7 900.3v15M646.7 905.8h15M654.2 898.3v15M646.7 912.0h15M654.2 904.5v15M651.9 905.8h15M659.4 898.3v15M651.9 923.4h15M659.4 915.9v15M646.7 942.2h15M654.2 934.7v15M646.7 947.4h15M654.2 939.9v15M646.7 953.6h15M654.2 946.1v15M663.4 949.5h15M670.9 942.0v15M695.6 937.0h15M703.1 929.5v15M695.6 968.2h15M703.1 960.7v15M692.5 832.9h15M700.0 825.4v15M692.5 860.0h15M700.0 852.5v15M692.5 878.7h15M700.0 871.2v15M661.3 829.8h15M668.8 822.3v15M649.8 839.1h15M657.3 831.6v15M647.8 845.4h15M655.3 837.9v15M633.2 832.9h15M640.7 825.4v15M633.2 840.2h15M640.7 832.7v15M633.2 846.4h15M640.7 838.9v15M633.2 852.7h15M640.7 845.2v15M633.2 860.0h15M640.7 852.5v15M604.0 814.2h15M611.5 806.7v15M604.0 819.4h15M611.5 811.9v15M604.0 824.6h15M611.5 817.1v15M604.0 830.8h15M611.5 823.3v15M606.1 838.1h15M613.6 830.6v15M608.2 841.2h15M615.7 833.7v15M612.4 851.6h15M619.9 844.1v15M604.0 858.9h15M611.5 851.4v15M646.7 814.2h15M654.2 806.7v15M633.2 812.1h15M640.7 804.6v15M607.2 809.0h15M614.7 801.5v15M611.2 808.9h15M618.7 801.4v15M603.4 814.4h15M610.9 806.9v15M602.4 812.6h15M609.9 805.1v15M611.6 818.1h15M619.1 810.6v15M602.4 816.3h15M609.9 808.8v15M601.9 818.8h15M609.4 811.3v15M601.4 821.6h15M608.9 814.1v15M599.0 822.4h15M606.5 814.9v15M600.7 821.9h15M608.2 814.4v15M605.5 827.5h15M613.0 820.0v15M610.0 827.1h15M617.5 819.6v15M609.7 828.3h15M617.2 820.8v15M601.9 831.5h15M609.4 824.0v15M598.8 832.5h15M606.3 825.0v15M604.8 832.5h15M612.3 825.0v15M605.8 835.1h15M613.3 827.6v15M601.2 838.2h15M608.7 830.7v15M599.9 841.3h15M607.4 833.8v15M600.4 841.6h15M607.9 834.1v15M607.6 843.8h15M615.1 836.3v15M599.9 841.8h15M607.4 834.3v15M637.5 829.7h15M645.0 822.2v15M628.0 831.9h15M635.5 824.4v15M639.4 832.6h15M646.9 825.1v15M640.9 834.3h15M648.4 826.8v15M631.2 836.2h15M638.7 828.7v15M631.4 839.1h15M638.9 831.6v15M629.5 839.6h15M637.0 832.1v15M627.3 839.6h15M634.8 832.1v15M630.7 845.5h15M638.2 838.0v15M626.1 843.1h15M633.6 835.6v15M640.5 849.1h15M648.0 841.6v15M641.2 846.6h15M648.7 839.1v15M630.8 852.3h15M638.3 844.8v15M632.9 851.5h15M640.4 844.0v15M630.1 852.5h15M637.6 845.0v15M630.6 855.0h15M638.1 847.5v15M637.9 857.7h15M645.4 850.2v15M632.6 857.6h15M640.1 850.1v15M742.5 621.4h15M750.0 613.9v15M743.5 623.5h15M751.0 616.0v15M743.5 632.9h15M751.0 625.4v15M743.5 653.7h15M751.0 646.2v15M743.5 676.6h15M751.0 669.1v15M740.4 680.7h15M747.9 673.2v15M743.5 683.9h15M751.0 676.4v15M743.5 707.8h15M751.0 700.3v15M740.4 720.3h15M747.9 712.8v15M743.5 722.4h15M751.0 714.9v15M740.4 727.6h15M747.9 720.1v15M740.4 732.8h15M747.9 725.3v15M742.5 738.0h15M750.0 730.5v15M742.5 742.1h15M750.0 734.6v15M742.5 749.4h15M750.0 741.9v15M742.5 751.5h15M750.0 744.0v15M742.5 755.7h15M750.0 748.2v15M742.5 764.0h15M750.0 756.5v15M742.5 772.3h15M750.0 764.8v15M742.5 778.6h15M750.0 771.1v15M742.5 783.8h15M750.0 776.3v15M743.5 789.0h15M751.0 781.5v15M743.5 795.2h15M751.0 787.7v15M743.5 799.4h15M751.0 791.9v15M693.5 668.2h15M701.0 660.7v15M717.5 678.7h15M725.0 671.2v15M717.5 732.8h15M725.0 725.3v15M693.5 782.7h15M701.0 775.2v15M910.0 561.0h15M917.5 553.5v15M890.3 586.0h15M897.8 578.5v15M910.0 596.4h15M917.5 588.9v15M902.7 599.6h15M910.2 592.1v15M901.7 604.8h15M909.2 597.3v15M900.7 620.4h15M908.2 612.9v15M907.9 620.4h15M915.4 612.9v15M889.2 638.1h15M896.7 630.6v15M894.4 641.2h15M901.9 633.7v15M898.6 643.3h15M906.1 635.8v15M901.7 644.3h15M909.2 636.8v15M891.3 656.8h15M898.8 649.3v15M890.3 675.5h15M897.8 668.0v15M900.7 683.9h15M908.2 676.4v15M900.7 687.0h15M908.2 679.5v15M894.4 690.1h15M901.9 682.6v15M901.7 703.6h15M909.2 696.1v15M914.2 707.8h15M921.7 700.3v15M909.0 713.0h15M916.5 705.5v15M900.7 718.2h15M908.2 710.7v15M902.7 720.3h15M910.2 712.8v15M898.6 722.4h15M906.1 714.9v15M892.3 726.5h15M899.8 719.0v15M906.9 743.2h15M914.4 735.7v15M902.7 747.3h15M910.2 739.8v15M892.3 765.0h15M899.8 757.5v15M902.7 770.2h15M910.2 762.7v15M904.8 804.6h15M912.3 797.1v15M742.5 914.1h15M750.0 906.6v15M742.5 918.2h15M750.0 910.7v15M742.5 922.4h15M750.0 914.9v15M741.4 930.7h15M748.9 923.2v15M741.4 950.5h15M748.9 943.0v15M741.4 965.1h15M748.9 957.6v15M741.4 992.1h15M748.9 984.6v15M741.4 1010.9h15M748.9 1003.4v15M693.5 832.9h15M701.0 825.4v15M717.5 830.8h15M725.0 823.3v15M717.5 836.0h15M725.0 828.5v15M693.5 860.0h15M701.0 852.5v15M693.5 878.7h15M701.0 871.2v15M717.5 893.3h15M725.0 885.8v15M696.7 937.0h15M704.2 929.5v15M696.7 968.2h15M704.2 960.7v15M717.5 978.6h15M725.0 971.1v15M889.2 823.5h15M896.7 816.0v15M901.7 833.9h15M909.2 826.4v15M915.2 833.9h15M922.7 826.4v15M901.7 842.3h15M909.2 834.8v15M913.1 852.7h15M920.6 845.2v15M912.1 864.1h15M919.6 856.6v15M894.4 865.2h15M901.9 857.7v15M898.6 870.4h15M906.1 862.9v15M890.3 874.5h15M897.8 867.0v15M900.7 876.6h15M908.2 869.1v15M915.2 894.3h15M922.7 886.8v15M894.4 898.5h15M901.9 891.0v15M891.3 907.8h15M898.8 900.3v15M904.8 906.8h15M912.3 899.3v15M894.4 920.3h15M901.9 912.8v15M892.3 933.9h15M899.8 926.4v15M888.2 934.9h15M895.7 927.4v15M892.3 949.5h15M899.8 942.0v15M900.7 949.5h15M908.2 942.0v15M915.2 949.5h15M922.7 942.0v15M893.4 968.2h15M900.9 960.7v15M898.6 972.4h15M906.1 964.9v15M893.4 980.7h15M900.9 973.2v15M901.7 990.1h15M909.2 982.6v15M891.3 997.3h15M898.8 989.8v15M891.3 1005.7h15M898.8 998.2v15M893.4 1011.9h15M900.9 1004.4v15M893.4 1016.1h15M900.9 1008.6v15M892.3 1024.4h15M899.8 1016.9v15M889.2 1033.8h15M896.7 1026.3v15M741.9 843.5h15M749.4 836.0v15M745.6 841.7h15M753.1 834.2v15M743.3 851.1h15M750.8 843.6v15M745.7 847.0h15M753.2 839.5v15M746.8 856.0h15M754.3 848.5v15M739.3 852.9h15M746.8 845.4v15M739.7 857.1h15M747.2 849.6v15M746.9 859.1h15M754.4 851.6v15M745.9 862.9h15M753.4 855.4v15M737.9 867.0h15M745.4 859.5v15M745.2 873.0h15M752.7 865.5v15M744.2 870.5h15M751.7 863.0v15M745.0 873.6h15M752.5 866.1v15M742.8 875.5h15M750.3 868.0v15M739.1 881.7h15M746.6 874.2v15M740.8 881.2h15M748.3 873.7v15M741.3 885.6h15M748.8 878.1v15M741.1 887.1h15M748.6 879.6v15M747.0 894.4h15M754.5 886.9v15M745.9 893.8h15M753.4 886.3v15M740.5 900.0h15M748.0 892.5v15M740.3 895.4h15M747.8 887.9v15M892.3 995.4h15M899.8 987.9v15M891.0 994.5h15M898.5 987.0v15M890.5 1006.9h15M898.0 999.4v15M891.9 1002.3h15M899.4 994.8v15M892.6 1015.4h15M900.1 1007.9v15M896.4 1012.2h15M903.9 1004.7v15M891.8 1022.4h15M899.3 1014.9v15M888.7 1020.6h15M896.2 1013.1v15M895.2 1033.2h15M902.7 1025.7v15M888.7 1034.0h15M896.2 1026.5v15M1037.2 565.2h15M1044.7 557.7v15M1037.2 728.6h15M1044.7 721.1v15M1038.3 738.0h15M1045.8 730.5v15M1037.2 751.5h15M1044.7 744.0v15M1044.5 768.2h15M1052.0 760.7v15M1045.5 778.6h15M1053.0 771.1v15M1034.1 792.1h15M1041.6 784.6v15M1038.3 795.2h15M1045.8 787.7v15M1040.3 796.3h15M1047.8 788.8v15M1037.2 798.3h15M1044.7 790.8v15M1045.5 814.2h15M1053.0 806.7v15M1045.5 820.4h15M1053.0 812.9v15M1038.3 850.6h15M1045.8 843.1v15M1045.5 847.5h15M1053.0 840.0v15M1045.5 850.6h15M1053.0 843.1v15M1036.2 897.4h15M1043.7 889.9v15M1040.3 901.6h15M1047.8 894.1v15M1044.5 909.9h15M1052.0 902.4v15M1042.4 915.1h15M1049.9 907.6v15M1038.3 918.2h15M1045.8 910.7v15M1044.5 921.4h15M1052.0 913.9v15M1039.3 937.0h15M1046.8 929.5v15M1042.4 939.1h15M1049.9 931.6v15M1044.5 942.2h15M1052.0 934.7v15M1044.5 955.7h15M1052.0 948.2v15M1044.5 975.5h15M1052.0 968.0v15M1044.5 988.0h15M1052.0 980.5v15M1044.5 992.1h15M1052.0 984.6v15M1044.5 1019.2h15M1052.0 1011.7v15M1044.5 1040.0h15M1052.0 1032.5v15M616.9 468.8h15M624.4 461.3v15M647.0 503.2h15M654.5 495.7v15M717.2 454.6h15M724.7 447.1v15M901.5 340.4h15M909.0 332.9v15M901.5 364.7h15M909.0 357.2v15M903.7 443.8h15M911.2 436.3v15M901.5 451.7h15M909.0 444.2v15M901.5 498.9h15M909.0 491.4v15M901.5 503.4h15M909.0 495.9v15M901.5 509.0h15M909.0 501.5v15M910.0 559.6h15M917.5 552.1v15M901.8 114.8h15M909.3 107.3v15M901.8 218.5h15M909.3 211.0v15M302.5 948.0h15M310.0 940.5v15M302.5 956.0h15M310.0 948.5v15M302.5 966.0h15M310.0 958.5v15M302.5 974.0h15M310.0 966.5v15M302.5 1014.0h15M310.0 1006.5v15M302.5 1020.0h15M310.0 1012.5v15M302.5 905.0h15M310.0 897.5v15M424.5 704.0h15M432.0 696.5v15M424.5 712.0h15M432.0 704.5v15M424.5 720.0h15M432.0 712.5v15M424.5 728.0h15M432.0 720.5v15M424.5 736.0h15M432.0 728.5v15M424.5 744.0h15M432.0 736.5v15M424.5 752.0h15M432.0 744.5v15M424.5 760.0h15M432.0 752.5v15M424.5 768.0h15M432.0 760.5v15M424.5 776.0h15M432.0 768.5v15M424.5 784.0h15M432.0 776.5v15M424.5 792.0h15M432.0 784.5v15M424.5 800.0h15M432.0 792.5v15M424.5 808.0h15M432.0 800.5v15M424.5 816.0h15M432.0 808.5v15M437.5 712.0h15M445.0 704.5v15M437.5 735.0h15M445.0 727.5v15M437.5 760.0h15M445.0 752.5v15M437.5 790.0h15M445.0 782.5v15M437.5 815.0h15M445.0 807.5v15" stroke="#77787b" stroke-width="2.9" fill="none"/>
<path d="M206.5 853.1 L211.4 853.1 L216.3 853.0 L221.2 853.0 L226.0 852.9 L230.9 852.8 L235.8 852.6 L240.7 852.5 L245.6 852.3 L250.5 852.0 L255.3 851.8 L260.2 851.5 L265.1 851.2 L270.0 850.9 L274.9 850.5 L279.8 850.2 L284.7 849.8 L289.5 849.4 L294.4 848.9 L299.3 848.5 L304.2 848.0 L309.1 847.5 L314.0 847.0 L318.8 846.4 L323.7 845.9 L328.6 845.3 L333.5 844.7 L338.4 844.1 L343.3 843.4 L348.1 842.8 L353.0 842.1 L357.9 841.4 L362.8 840.7 L367.7 840.0 L372.6 839.3 L377.5 838.5 L382.3 837.7 L387.2 837.0 L392.1 836.2 L397.0 835.4 L401.9 834.5 L406.8 833.7 L411.6 832.9 L416.5 832.0 L421.4 831.1 L426.3 830.2 L431.2 829.4 L436.1 828.4 L441.0 827.5 L445.8 826.6 L450.7 825.7 L455.6 824.7 L460.5 823.8 L465.4 822.8 L470.3 821.8 L475.1 820.9 L480.0 819.9 L484.9 818.9 L489.8 817.9 L494.7 816.9 L499.6 815.8 L504.4 814.8 L509.3 813.8 L514.2 812.8 L519.1 811.7 L524.0 810.7 L528.9 809.6 L533.8 808.6 L538.6 807.5 L543.5 806.5 L548.4 805.4 L553.3 804.3 L558.2 803.3 L563.1 802.2 L567.9 801.1 L572.8 800.0 L577.7 799.0 L582.6 797.9 L587.5 796.8 L592.4 795.7 L597.3 794.6 L602.1 793.6 L607.0 792.5 L611.9 791.4 L616.8 790.3 L621.7 789.2 L626.6 788.2 L631.4 787.1 L636.3 786.0 L641.2 784.9 L646.1 783.8 L651.0 782.8 L655.9 781.7 L660.8 780.6 L665.6 779.6 L670.5 778.5 L675.4 777.5 L680.3 776.4 L685.2 775.4 L690.1 774.3 L694.9 773.3 L699.8 772.2 L704.7 771.2 L709.6 770.2 L714.5 769.2 L719.4 768.1 L724.2 767.1 L729.1 766.1 L734.0 765.1 L738.9 764.1 L743.8 763.2 L748.7 762.2 L753.6 761.2 L758.4 760.3 L763.3 759.3 L768.2 758.3 L773.1 757.4 L778.0 756.5 L782.9 755.5 L787.7 754.6 L792.6 753.7 L797.5 752.8 L802.4 751.9 L807.3 751.0 L812.2 750.2 L817.1 749.3 L821.9 748.5 L826.8 747.6 L831.7 746.8 L836.6 745.9 L841.5 745.1 L846.4 744.3 L851.2 743.5 L856.1 742.7 L861.0 742.0 L865.9 741.2 L870.8 740.5 L875.7 739.7 L880.6 739.0 L885.4 738.3 L890.3 737.6 L895.2 736.9 L900.1 736.2 L905.0 735.5 L909.9 734.8 L914.7 734.2 L919.6 733.6 L924.5 732.9 L929.4 732.3 L934.3 731.7 L939.2 731.1 L944.0 730.6 L948.9 730.0 L953.8 729.5 L958.7 728.9 L963.6 728.4 L968.5 727.9 L973.4 727.4 L978.2 726.9 L983.1 726.4 L988.0 726.0 L992.9 725.5 L997.8 725.1 L1002.7 724.7 L1007.5 724.3 L1012.4 723.9 L1017.3 723.5 L1022.2 723.2 L1027.1 722.8 L1032.0 722.5 L1036.9 722.2 L1041.7 721.9 L1046.6 721.6 L1051.5 721.3 L1056.4 721.1 L1061.3 720.8 L1066.2 720.6 L1071.0 720.4 L1075.9 720.2 L1080.8 720.0 L1085.7 719.8 L1090.6 719.7 L1095.5 719.5 L1100.3 719.4 L1105.2 719.3 L1110.1 719.2 L1115.0 719.1 L1119.9 719.0 L1124.8 719.0 L1129.7 718.9 L1134.5 718.9 L1139.4 718.9 L1144.3 718.9 L1149.2 718.9 L1154.1 719.0 L1159.0 719.0 L1163.8 719.1 L1168.7 719.2 L1173.6 719.3 L1178.5 719.4" fill="none" stroke="#111" stroke-width="8.2"/>
<line x1="906" y1="742" x2="906" y2="830" stroke="#111" stroke-width="7.8"/>
<path d="M311.2 832.3L332.8 853.9L311.2 875.5L289.59999999999997 853.9Z" fill="#fff" stroke="#111" stroke-width="4.8"/>
<path d="M423.6 823.6999999999999L445.20000000000005 845.3L423.6 866.9L402.0 845.3Z" fill="#fff" stroke="#111" stroke-width="4.8"/>
<path d="M622.5 768.4L644.1 790L622.5 811.6L600.9 790Z" fill="#fff" stroke="#111" stroke-width="4.8"/>
<path d="M743.5 794.4L765.1 816L743.5 837.6L721.9 816Z" fill="#fff" stroke="#111" stroke-width="4.8"/>
<path d="M905.9 764.5L927.5 786.1L905.9 807.7L884.3 786.1Z" fill="#fff" stroke="#111" stroke-width="4.8"/>
<path d="M1048.5 853.1L1070.1 874.7L1048.5 896.3000000000001L1026.9 874.7Z" fill="#fff" stroke="#111" stroke-width="4.8"/>
<rect x="205.1" y="84.4" width="974.9" height="975.3" fill="none" stroke="#231f20" stroke-width="4"/>
<text x="94.5" y="155.7" font-family="Liberation Sans, sans-serif" font-size="47" font-weight="normal" fill="#231f20" text-anchor="start" textLength="74.4" lengthAdjust="spacingAndGlyphs" >150</text>
<text x="94.6" y="460.4" font-family="Liberation Sans, sans-serif" font-size="47" font-weight="normal" fill="#231f20" text-anchor="start" textLength="74.4" lengthAdjust="spacingAndGlyphs" >100</text>
<text x="109.1" y="765.5" font-family="Liberation Sans, sans-serif" font-size="47" font-weight="normal" fill="#231f20" text-anchor="start" textLength="51.1" lengthAdjust="spacingAndGlyphs" >50</text>
<text x="127.4" y="1070.2" font-family="Liberation Sans, sans-serif" font-size="47" font-weight="normal" fill="#231f20" text-anchor="start" textLength="24" lengthAdjust="spacingAndGlyphs" >0</text>
<text x="197.4" y="1128.4" font-family="Liberation Sans, sans-serif" font-size="47" font-weight="normal" fill="#231f20" text-anchor="start" textLength="24.2" lengthAdjust="spacingAndGlyphs" >0</text>
<text x="399.6" y="1128.4" font-family="Liberation Sans, sans-serif" font-size="47" font-weight="normal" fill="#231f20" text-anchor="start" textLength="49.9" lengthAdjust="spacingAndGlyphs" >20</text>
<text x="604.2" y="1128.4" font-family="Liberation Sans, sans-serif" font-size="47" font-weight="normal" fill="#231f20" text-anchor="start" textLength="50.7" lengthAdjust="spacingAndGlyphs" >40</text>
<text x="809.8" y="1128.4" font-family="Liberation Sans, sans-serif" font-size="47" font-weight="normal" fill="#231f20" text-anchor="start" textLength="51.6" lengthAdjust="spacingAndGlyphs" >60</text>
<text x="1015.5" y="1128.4" font-family="Liberation Sans, sans-serif" font-size="47" font-weight="normal" fill="#231f20" text-anchor="start" textLength="50.7" lengthAdjust="spacingAndGlyphs" >80</text>
<text x="539.8" y="1187.2" font-family="Liberation Sans, sans-serif" font-size="48" font-weight="normal" fill="#231f20" text-anchor="start" textLength="175.6" lengthAdjust="spacingAndGlyphs" >Latitude</text>
<text x="257" y="197.7" font-family="Liberation Sans, sans-serif" font-size="46" font-weight="normal" fill="#231f20" text-anchor="start" textLength="23" lengthAdjust="spacingAndGlyphs" >a</text>
<text x="279.5" y="194.3" font-family="Liberation Sans, sans-serif" font-size="45" font-weight="normal" fill="#231f20" text-anchor="start" textLength="14" lengthAdjust="spacingAndGlyphs" >)</text>
<text x="969" y="200.7" font-family="Liberation Sans, sans-serif" font-size="46" font-weight="normal" fill="#231f20" text-anchor="start" textLength="170" lengthAdjust="spacingAndGlyphs" >Tangent</text>
<text x="969.5" y="260.4" font-family="Liberation Sans, sans-serif" font-size="46" font-weight="normal" fill="#231f20" text-anchor="start" textLength="168.5" lengthAdjust="spacingAndGlyphs" >cylinder</text>
<g transform="translate(44 861.5) rotate(-90)"><text x="-4.8" y="0" font-family="Liberation Sans, sans-serif" font-size="46" font-weight="normal" fill="#231f20" text-anchor="start" textLength="300.2" lengthAdjust="spacingAndGlyphs" >Paleointensity</text><text x="306.6" y="0" font-family="Liberation Sans, sans-serif" font-size="46" font-weight="normal" fill="#231f20" text-anchor="start" textLength="13" lengthAdjust="spacingAndGlyphs" >(</text><text x="344.7" y="0" font-family="Liberation Sans, sans-serif" font-size="46" font-weight="normal" fill="#231f20" text-anchor="start" textLength="24.8" lengthAdjust="spacingAndGlyphs" >T</text><text x="371.2" y="0" font-family="Liberation Sans, sans-serif" font-size="46" font-weight="normal" fill="#231f20" text-anchor="start" textLength="12.7" lengthAdjust="spacingAndGlyphs" >)</text><text x="363.2" y="0" font-family="Liberation Sans, sans-serif" font-size="46" font-weight="normal" fill="#231f20" text-anchor="start" textLength="36" lengthAdjust="spacingAndGlyphs" >&#956;</text></g>
<circle cx="1731" cy="581.4" r="471.5" fill="url(#gOuter)" stroke="#111" stroke-width="6.3"/>
<circle cx="1470" cy="770" r="230" fill="url(#gGlow)" clip-path="url(#cOuter)"/>
<line x1="1652.8" y1="113" x2="1652.8" y2="1050" stroke="#111" stroke-width="4" stroke-dasharray="48.5 51.5" stroke-dashoffset="14"/>
<line x1="1813" y1="113" x2="1813" y2="1050" stroke="#111" stroke-width="4" stroke-dasharray="48.5 51.5" stroke-dashoffset="14"/>
<line x1="1733.3" y1="0" x2="1733.3" y2="1138" stroke="#111" stroke-width="6.2"/>
<ellipse cx="1730.2" cy="577.2" rx="229.5" ry="226.2" fill="url(#gInner)"/>
<g clip-path="url(#cInner)">
 <rect x="1645.4" y="340" width="175.6" height="455" rx="4" fill="#5aa1cf"/>
 <rect x="1645.4" y="340" width="175.6" height="32.5" fill="#5193c0"/>
 <rect x="1658.3" y="384.4" width="150.2" height="398" fill="url(#gBlueIn)"/>
 <path d="M1658.3 782 L1658.3 775 Q1733 738 1808.5 775 L1808.5 782 Z" fill="#5294c0"/>
</g>
<path d="M1588.7 404 L1588.7 752 Q1620.2 770 1651.7 752 L1651.7 404 Z" fill="url(#gGreenL)"/>
<ellipse cx="1620.2" cy="404" rx="31.5" ry="9" fill="#86bb59"/>
<path d="M1812 404 L1812 752 Q1843.5 770 1875 752 L1875 404 Z" fill="url(#gGreenR)"/>
<ellipse cx="1843.5" cy="404" rx="31.5" ry="9" fill="#86bb59"/>
<circle cx="1732" cy="579.5" r="77.5" fill="url(#gRed)" stroke="#e0394f" stroke-width="4"/>
<ellipse cx="1730.2" cy="577.2" rx="229.5" ry="226.2" fill="none" stroke="#111" stroke-width="6.3"/>
<g fill="none" stroke="#111" stroke-width="2"><path d="M1727.2 419.5 C1727 395 1715 382 1698.3 381.9 C1683 382 1670 393 1667.6 409.5"/><path d="M1735 419 C1735 395 1748 381.5 1764.3 381.5 C1780 381.5 1792 392 1795 406"/><path d="M1677.5 533.5 C1700 545 1745 548 1762 526 C1778 505 1778 478 1772 460.5"/><path d="M1791.5 537 C1765 550 1720 546 1703 524 C1690 506 1690 482 1697 466"/><path d="M1622.4 449.9 C1640 449.5 1652.4 452 1652.4 456.6 C1652.4 461 1640 463.8 1622.4 463.8 C1612 463.8 1604 462 1600.3 460.4"/><path d="M1623.7 699.7 C1641 699.3 1653.6 702 1653.6 706.6 C1653.6 711 1641 713.4 1625.8 713.4 C1612 713.4 1603 711 1597.9 709.4"/><path d="M1840.2 451.2 C1825 451.2 1810.4 454 1810.4 458.1 C1810.4 462.5 1825 465 1841.2 465 C1852 465 1860 463 1866.3 461"/><path d="M1840.2 695.6 C1825 695.6 1810.4 698.4 1810.4 702.5 C1810.4 706.9 1825 709.4 1841.2 709.4 C1852 709.4 1860 707.4 1866.3 705.4"/></g>
<path d="M1662.13 408.92 L1666.4 420.9 L1673.07 410.08 Z" fill="#111"/><ellipse cx="1667.6" cy="409.5" rx="3.41" ry="5.50" transform="rotate(96.0 1667.6 409.5)" fill="#111"/><ellipse cx="1667.6" cy="409.5" rx="2.23" ry="3.60" transform="rotate(96.0 1667.6 409.5)" fill="#6d6e71"/>
<path d="M1788.83 407.14 L1796.4 420 L1801.17 405.86 Z" fill="#111"/><ellipse cx="1795" cy="406.5" rx="6.20" ry="6.20" transform="rotate(84.1 1795 406.5)" fill="#111"/>
<path d="M1703.58 465.21 L1700.5 450 L1690.42 461.79 Z" fill="#111"/><ellipse cx="1697" cy="463.5" rx="6.80" ry="6.80" transform="rotate(-75.5 1697 463.5)" fill="#111"/>
<path d="M1777.79 458.92 L1769 449.5 L1766.21 462.08 Z" fill="#111"/><ellipse cx="1772" cy="460.5" rx="2.10" ry="6.00" transform="rotate(-105.3 1772 460.5)" fill="#111"/><ellipse cx="1772" cy="460.5" rx="1.22" ry="3.50" transform="rotate(-105.3 1772 460.5)" fill="#6d6e71"/>
<path d="M1599.44 455.04 L1587.7 453.6 L1593.76 463.76 Z" fill="#111"/><ellipse cx="1596.6" cy="459.4" rx="5.20" ry="5.20" transform="rotate(-146.9 1596.6 459.4)" fill="#111"/><ellipse cx="1596.6" cy="459.4" rx="3.40" ry="3.40" transform="rotate(-146.9 1596.6 459.4)" fill="#6d6e71"/>
<path d="M1600.68 705.00 L1588.4 703.4 L1595.12 713.80 Z" fill="#111"/><ellipse cx="1597.9" cy="709.4" rx="5.20" ry="5.20" transform="rotate(-147.7 1597.9 709.4)" fill="#111"/><ellipse cx="1597.9" cy="709.4" rx="3.40" ry="3.40" transform="rotate(-147.7 1597.9 709.4)" fill="#6d6e71"/>
<path d="M1869.03 465.43 L1875.7 455.2 L1863.57 456.57 Z" fill="#111"/><ellipse cx="1866.3" cy="461" rx="5.20" ry="5.20" transform="rotate(-31.7 1866.3 461)" fill="#111"/><ellipse cx="1866.3" cy="461" rx="3.40" ry="3.40" transform="rotate(-31.7 1866.3 461)" fill="#6d6e71"/>
<path d="M1869.03 709.83 L1875.7 699.6 L1863.57 700.97 Z" fill="#111"/><ellipse cx="1866.3" cy="705.4" rx="5.20" ry="5.20" transform="rotate(-31.7 1866.3 705.4)" fill="#111"/><ellipse cx="1866.3" cy="705.4" rx="3.40" ry="3.40" transform="rotate(-31.7 1866.3 705.4)" fill="#6d6e71"/>
<path d="M1727.8 60 C1700 60 1680 65 1680 71 C1680 78 1700 82.4 1727 82.4 L1740 82.4 C1755 82 1765 79 1770 76" fill="none" stroke="#111" stroke-width="2.2"/>
<path d="M1774.40 81.57 L1785.5 65.5 L1766.60 70.43 Z" fill="#111"/><ellipse cx="1770.5" cy="76" rx="6.80" ry="6.80" transform="rotate(-35.0 1770.5 76)" fill="#111"/><ellipse cx="1770.5" cy="76" rx="5.30" ry="5.30" transform="rotate(-35.0 1770.5 76)" fill="#6d6e71"/>
<text x="1260.3" y="143.5" font-family="Liberation Sans, sans-serif" font-size="48" font-weight="normal" fill="#231f20" text-anchor="start" textLength="26" lengthAdjust="spacingAndGlyphs" >b</text>
<text x="1285.5" y="140" font-family="Liberation Sans, sans-serif" font-size="45" font-weight="normal" fill="#231f20" text-anchor="start" textLength="14" lengthAdjust="spacingAndGlyphs" >)</text>
<text font-family="Liberation Sans, sans-serif" font-size="31.5" fill="#111"><textPath href="#pEarth" startOffset="3" textLength="216" lengthAdjust="spacingAndGlyphs">Earth&#8217;s Surface</textPath></text>
<text font-family="Liberation Sans, sans-serif" font-size="32" fill="#111"><textPath href="#pCMB" startOffset="3" textLength="344" lengthAdjust="spacingAndGlyphs">Core - Mantle Boundary</textPath></text>
<g transform="translate(1726.4 288) rotate(-90)"><text x="0" y="0" font-family="Liberation Sans, sans-serif" font-size="29.5" font-weight="normal" fill="#111" text-anchor="start" textLength="167.5" lengthAdjust="spacingAndGlyphs" >Rotation Axis</text></g>
<g transform="translate(1630.6 696) rotate(-90)"><text x="0" y="0" font-family="Liberation Sans, sans-serif" font-size="31" font-weight="normal" fill="#111" text-anchor="start" textLength="217.6" lengthAdjust="spacingAndGlyphs" >Columnar Flow</text></g>
<text x="1657.6" y="585.8" font-family="Liberation Sans, sans-serif" font-size="33" font-weight="normal" fill="#0d0d0d" text-anchor="start" textLength="150.5" lengthAdjust="spacingAndGlyphs" >Inner Core</text>
<text x="1669.6" y="719.1" font-family="Liberation Sans, sans-serif" font-size="33" font-weight="bold" fill="#231f20" text-anchor="start" textLength="128.5" lengthAdjust="spacingAndGlyphs" >Tangent</text>
<text x="1669.9" y="761" font-family="Liberation Sans, sans-serif" font-size="33" font-weight="bold" fill="#231f20" text-anchor="start" textLength="128" lengthAdjust="spacingAndGlyphs" >Cylinder</text>
<path d="M1770 92.5 C1772 88 1775 87 1778 89.5 C1780 91.5 1783 91.5 1784.8 87.5" fill="none" stroke="#111" stroke-width="2.6"/>
<text x="1791" y="99" font-family="Liberation Sans, sans-serif" font-size="28" font-weight="normal" fill="#111" text-anchor="start" textLength="14" lengthAdjust="spacingAndGlyphs" >8</text>
<text x="1811" y="99" font-family="Liberation Sans, sans-serif" font-size="28" font-weight="normal" fill="#111" text-anchor="start" textLength="14" lengthAdjust="spacingAndGlyphs" >0</text>
<text x="1828" y="78" font-family="Liberation Sans, sans-serif" font-size="28" font-weight="normal" fill="#111" text-anchor="start" textLength="15" lengthAdjust="spacingAndGlyphs" >o</text></svg></body></html>
